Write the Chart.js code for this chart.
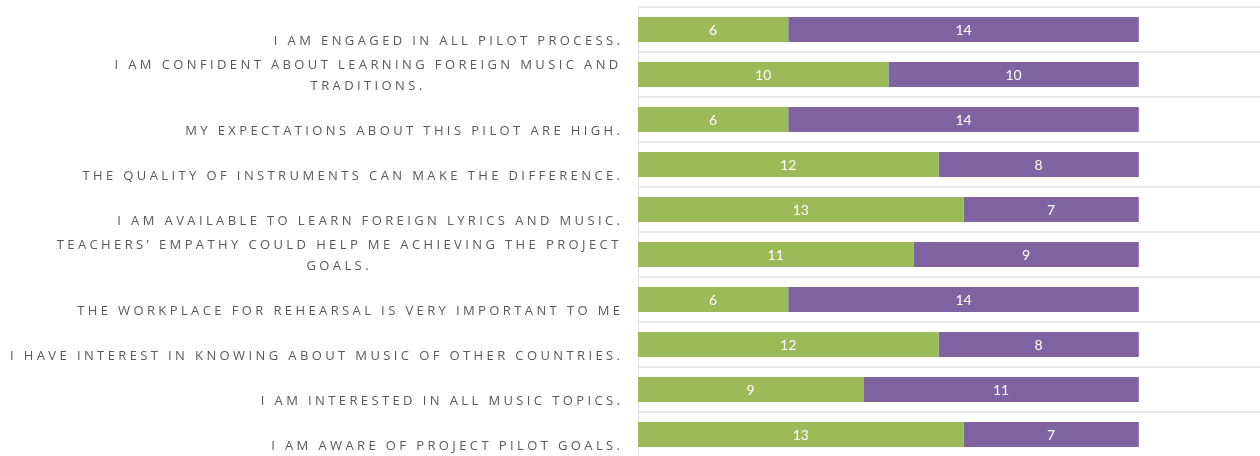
<!DOCTYPE html>
<html>
<head>
<meta charset="utf-8">
<script src="https://cdn.jsdelivr.net/npm/chart.js@4"></script>
<style>
  html, body { margin: 0; padding: 0; background: #fff; overflow: hidden; }
  #wrap { width: 1265px; height: 460px; position: relative; }
</style>
</head>
<body>
<div id="wrap"><canvas id="survey_chart"></canvas></div>
<script>
// Survey statements, top to bottom
const statements = [
    ['I AM ENGAGED IN ALL PILOT PROCESS.'],
    ['I AM CONFIDENT ABOUT LEARNING FOREIGN MUSIC AND', 'TRADITIONS.'],
    ['MY EXPECTATIONS ABOUT THIS PILOT ARE HIGH.'],
    ['THE QUALITY OF INSTRUMENTS CAN MAKE THE DIFFERENCE.'],
    ['I AM AVAILABLE TO LEARN FOREIGN LYRICS AND MUSIC.'],
    ['TEACHERS\u2019 EMPATHY COULD HELP ME ACHIEVING THE PROJECT', 'GOALS.'],
    ['THE WORKPLACE FOR REHEARSAL IS VERY IMPORTANT TO ME'],
    ['I HAVE INTEREST IN KNOWING ABOUT MUSIC OF OTHER COUNTRIES.'],
    ['I AM INTERESTED IN ALL MUSIC TOPICS.'],
    ['I AM AWARE OF PROJECT PILOT GOALS.'],
];

const green_values = [6, 10, 6, 12, 13, 11, 6, 12, 9, 13];
const purple_values = [14, 10, 14, 8, 7, 9, 14, 8, 11, 7];

const label_color = '#595959';
const label_font = '13px "Open Sans"';

// Draws the statements to the left of the plot, Excel style spaced caps
const statementLabels = {
    id: 'statementLabels',
    afterDraw(chart) {
        const ctx = chart.ctx;
        const yScale = chart.scales.y;
        const right = chart.chartArea.left - 18;
        ctx.save();
        ctx.font = label_font;
        ctx.fillStyle = label_color;
        ctx.textBaseline = 'middle';
        // spacing so the longest line spans the same width as the original
        ctx.letterSpacing = '0px';
        const longest = statements[7][0];
        const w0 = ctx.measureText(longest).width;
        const sp = (610 - w0) / (longest.length - 1);
        ctx.letterSpacing = sp + 'px';
        statements.forEach((lines, i) => {
            const cy = yScale.getPixelForValue(i);
            if (lines.length == 1) {
                ctx.textAlign = 'right';
                ctx.fillText(lines[0], right + sp, cy + 12);
            } else {
                const widths = lines.map(l => ctx.measureText(l).width);
                const mid = right - Math.max(...widths) / 2;
                ctx.textAlign = 'center';
                ctx.fillText(lines[0], mid + sp / 2, cy - 9);
                ctx.fillText(lines[1], mid + sp / 2, cy + 12);
            }
        });
        ctx.restore();
    }
};

// Value labels inside each bar segment
const segmentValues = {
    id: 'segmentValues',
    afterDatasetsDraw(chart) {
        const ctx = chart.ctx;
        ctx.save();
        ctx.font = '14px Lato';
        ctx.fillStyle = '#ffffff';
        ctx.textAlign = 'center';
        ctx.textBaseline = 'middle';
        chart.data.datasets.forEach((dataset, d) => {
            chart.getDatasetMeta(d).data.forEach((bar, i) => {
                const p = bar.getProps(['x', 'y', 'base'], true);
                ctx.fillText(dataset.data[i], (p.x + p.base) / 2, p.y + 1);
            });
        });
        ctx.restore();
    }
};

const survey_data = {
    labels: statements.map(l => l.join(' ')),
    datasets: [{
        label: 'Series 1',
        data: green_values,
        backgroundColor: '#9bbb59',
        borderWidth: 0,
    }, {
        label: 'Series 2',
        data: purple_values,
        backgroundColor: '#8064a2',
        borderWidth: 0,
    }]
};

const survey_config = {
    type: 'bar',
    data: survey_data,
    options: {
        indexAxis: 'y',
        responsive: true,
        maintainAspectRatio: false,
        animation: false,
        layout: {
            padding: {left: 638, top: 7, right: 1, bottom: 3}
        },
        datasets: {
            bar: {barPercentage: 0.555, categoryPercentage: 1}
        },
        plugins: {
            legend: {display: false},
            tooltip: {enabled: false}
        },
        scales: {
            x: {
                stacked: true,
                display: false,
                min: 0,
                max: 25,
            },
            y: {
                stacked: true,
                ticks: {display: false},
                grid: {
                    color: '#e8e8e8',
                    lineWidth: 2,
                    drawTicks: false,
                },
                border: {
                    display: true,
                    color: '#e2e2e2',
                    width: 1,
                }
            }
        }
    },
    plugins: [statementLabels, segmentValues]
};

const surveyChart = new Chart(
    document.getElementById('survey_chart'),
    survey_config
);
</script>
</body>
</html>
